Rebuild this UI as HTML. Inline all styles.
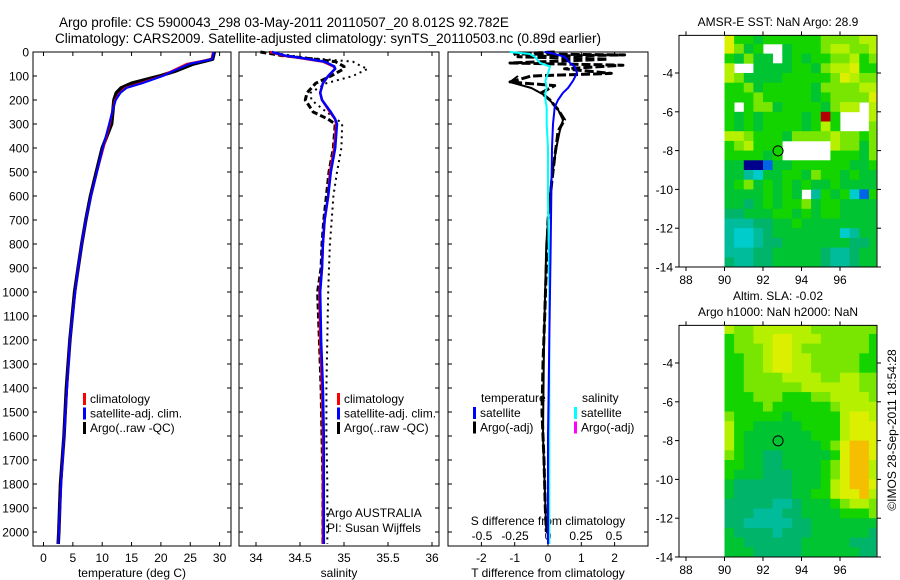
<!DOCTYPE html>
<html><head><meta charset="utf-8"><style>
html,body{margin:0;padding:0;background:#fff;width:900px;height:580px;overflow:hidden}
svg{display:block;font-family:"Liberation Sans",Arial,sans-serif}
text{fill:#000}
</style></head><body>
<svg id="fig" width="900" height="580" viewBox="0 0 900 580" xmlns="http://www.w3.org/2000/svg">
<text x="59" y="27" font-size="13.5">Argo profile: CS 5900043_298 03-May-2011 20110507_20 8.012S 92.782E</text>
<text x="55" y="43" font-size="13.5">Climatology: CARS2009. Satellite-adjusted climatology: synTS_20110503.nc (0.89d earlier)</text>
<g id="layer"></g>
</svg>
<script>
// ---------- data ----------
const depthTicks=[0,100,200,300,400,500,600,700,800,900,1000,1100,1200,1300,1400,1500,1600,1700,1800,1900,2000];
const tTicks=[0,5,10,15,20,25,30];
const sTicks=[34,34.5,35,35.5,36];
const sTickLabels=["34","34.5","35","35.5","36"];
const dTTicks=[-2,-1,0,1,2];
const dSTicks=[-0.5,-0.25,0,0.25,0.5];
const dSTickLabels=["-0.5","-0.25","0","0.25","0.5"];

const tDepth=[0,30,50,80,100,130,150,170,200,250,300,400,500,600,700,800,900,1000,1200,1400,1600,1800,2000,2050];
const tClim=[28.9,28.6,24.4,21.8,20.2,16.5,13.9,13.0,12.2,11.7,11.3,10.2,9.1,8.1,7.2,6.5,5.9,5.4,4.5,4.0,3.5,3.0,2.6,2.5];
const tSat=[29.0,28.7,24.8,22.0,20.3,16.8,14.1,13.1,12.3,11.7,11.2,10.1,9.1,8.1,7.2,6.5,5.9,5.4,4.5,4.0,3.5,3.0,2.6,2.5];
const tArgo=[29.1,28.8,25.5,22.4,19.8,15.0,13.2,12.4,12.0,11.8,11.6,10.0,9.0,8.0,7.2,6.5,5.9,5.3,4.5,3.9,3.5,2.9,2.6,2.5];

const sDepth=[0,15,25,40,60,70,100,130,170,200,250,280,300,400,500,600,700,800,900,1000,1200,1400,1600,1800,2000,2050];
const sClim=[34.16,34.31,34.5,34.76,34.88,34.9,34.82,34.76,34.73,34.75,34.84,34.9,34.91,34.89,34.84,34.82,34.78,34.76,34.75,34.72,34.73,34.75,34.76,34.76,34.76,34.76];
const sSat=[34.18,34.33,34.52,34.78,34.89,34.9,34.82,34.76,34.73,34.75,34.85,34.9,34.92,34.9,34.85,34.82,34.78,34.76,34.75,34.73,34.74,34.76,34.77,34.77,34.77,34.77];
const sArgoDash=[34.05,34.3,34.55,34.9,35.0,35.0,34.85,34.68,34.58,34.56,34.65,34.82,34.9,34.88,34.83,34.8,34.77,34.75,34.74,34.7,34.72,34.74,34.75,34.76,34.76,34.76];
const sArgoDot=[34.15,34.4,34.6,35.1,35.2,35.27,35.1,34.8,34.62,34.63,34.8,34.92,34.98,34.97,34.92,34.88,34.86,34.84,34.83,34.82,34.81,34.8,34.8,34.81,34.81,34.81];

const dDepth=[0,8,20,46,60,88,120,150,170,200,230,300,400,600,800,1000,1200,1400,1600,1800,2000,2050];
const dTSat=[-0.1,0.2,0.5,0.66,0.8,0.87,0.75,0.6,0.45,0.3,0.2,0.15,0.12,0.1,0.08,0.06,0.04,0.02,0.0,0.0,0.0,0.0];
const dSSat=[-0.29,-0.14,-0.1,-0.06,0.015,0.0,-0.02,-0.01,-0.02,-0.02,-0.01,-0.01,0.0,0.0,0.005,0.01,0.01,0.01,0.01,0.01,0.01,0.01];
const argoDDepth=[0,8,12,20,30,46,55,70,89,100,125,140,170,200,240,283,330,367,437,533,700,900,1100,1300,1500,1700,1900,2000];
const dTArgo=[0.2,-1.0,2.3,-0.9,1.8,-1.14,2.25,0.5,1.9,-0.5,-1.14,0.2,-0.2,0.06,0.3,0.5,0.3,0.27,0.2,0.12,0.0,-0.05,-0.1,-0.15,-0.18,-0.12,-0.08,-0.05];
const argo2Depth=[100,125,150,180,200,240,283,330,400,533,800,1200,1600,2000];
const dTArgo2=[-0.9,-1.14,-0.5,-0.1,0.05,0.3,0.45,0.35,0.25,0.1,-0.05,-0.12,-0.15,-0.05];

const lonTicks=[88,90,92,94,96];
const latTicks=[-4,-6,-8,-10,-12,-14];
const argoLon=92.782, argoLat=-8.012;
const sstRows=[
"YGGgGGGGGGllllyy","YlgG..gGGGlyylly","Gglgg.gGgGGllyGl","y..ggggGGglyyYGG","ylggggGGGGGlYyll","GGlgGGGGGgllllyy",
"GGGlGGGGGgGllllY","G.GllgGGGGglyy.y","GgGgGGGGgGrG...y","GgGgGGGGgGyG...l","yylGGGgllllyllGl","GlyGGG.....yllgl",
"GGGGgG.....GGGgl","ggnnbggGGGGGGggG","ggtcggGGglGGgGgg","gGlgGgGgGggGgggg","ggggGgGg.tGgGcbG","ggugGgGGlgGGgggg",
"uugggGGgGgGGgggg","tttuuggGgggggggg","tcctugggggggctgg","tcctuuggggggguug","tttuuggggguttugg","uttuuggggguttugg"];
const slaRows=[
"yllyyyyyylllllll","GllyyYYyyylllllG","GlllyYYylllllllG","GGllyYYyylllllGG","GGllyYYyylllllGG","GGllllyyyyllyyll",
"GGllllllyyyyyyll","GGGlllGGGllyyyyl","GGGGlGGGGGGlyyyy","lGGGGGgGGGGGyYYy","yGGgggggGGGGyYYY","yGgggggggGGGyYYY",
"yGggggggggGlYooY","lGgguugggggGYooY","GGgguuggggGlYooy","GggguuugggGlYooy","guuuuuugggGyYooY","guuuuuuggGGyYYoy",
"uuuuuttugggGlyyl","uuutttuuggggGGGl","uutttttuuggggggg","guuuutuuuggggggu","gguuuuuuggggguuu","ggguuuuugggggguu"];
const palette={'n':'#00008c','b':'#0064e6','c':'#00cccc','t':'#00bc9a','u':'#00b46a','g':'#00c432','G':'#14d400','l':'#78e600','y':'#b4f000','Y':'#dcef00','o':'#f5be00','r':'#b40000'};

// ---------- helpers ----------
const NS="http://www.w3.org/2000/svg";
const layer=document.getElementById('layer');
function mk(tag,attrs,parent){const e=document.createElementNS(NS,tag);for(const k in attrs)e.setAttribute(k,attrs[k]);(parent||layer).appendChild(e);return e;}
function txt(x,y,s,size,anchor,parent){const e=mk('text',{x:x,y:y,'font-size':size,'text-anchor':anchor||'start'},parent);e.textContent=s;return e;}
const yD=d=>52+d*0.24;
const PT={x0:33,x1:231}, PS={x0:239,x1:439}, PD={x0:448,x1:648};
const xT=t=>43.5+t*5.87;
const xS=s=>256+(s-34)*88;
const xDT=v=>548+v*33.3;
const xDS=v=>548+v*132;
const TOP=52,BOT=546;
function line(xs,ys,fx,stroke,w,dash,name){
  let d='';for(let i=0;i<xs.length;i++){d+=(i?'L':'M')+fx(xs[i]).toFixed(1)+','+yD(ys[i]).toFixed(1);}
  const p=mk('path',{d:d,fill:'none',stroke:stroke,'stroke-width':w,'stroke-linejoin':'round'});
  if(dash)p.setAttribute('stroke-dasharray',dash);
  
  
  return p;
}
function frame(P,name){
  const r=mk('rect',{x:P.x0,y:TOP,width:P.x1-P.x0,height:BOT-TOP,fill:'none',stroke:'#000','stroke-width':1});
  
  
}
function xticks(P,vals,labels,fx,name){
  const g=mk('g',{});
  
  
  vals.forEach((v,i)=>{const x=fx(v);
    mk('line',{x1:x,x2:x,y1:BOT,y2:BOT-4,stroke:'#000'},g);
    mk('line',{x1:x,x2:x,y1:TOP,y2:TOP+4,stroke:'#000'},g);
    txt(x,562,labels[i],12,'middle',g);});
}
function yticks(P,right){
  depthTicks.forEach(d=>{const y=yD(d);
    mk('line',{x1:P.x0,x2:P.x0+4,y1:y,y2:y,stroke:'#000'});
    if(right)mk('line',{x1:P.x1,x2:P.x1-4,y1:y,y2:y,stroke:'#000'});});
}
// ---------- panel 1 temperature ----------
const ylab=mk('g',{});


depthTicks.forEach(d=>txt(29,yD(d)+4.5,String(d),12,'end',ylab));
frame(PT,'temperature-panel-frame');yticks(PT,true);
xticks(PT,tTicks,tTicks.map(String),xT,'temperature-x-ticks');
line(tArgo,tDepth,xT,'#000',3.5,null,'temp-argo-line');
line(tClim,tDepth,xT,'#f00',2.2,null,'temp-climatology-line');
line(tSat,tDepth,xT,'#00f',2.2,null,'temp-satellite-line');
txt(132,577,'temperature (deg C)',12,'middle');
function legend(x,y,items,name){
  const g=mk('g',{});
  
  
  items.forEach((it,i)=>{mk('rect',{x:x,y:y+i*14.5-10,width:3,height:12,fill:it[0]},g);txt(x+7,y+i*14.5,it[1],12,'start',g);});
}
legend(83,403,[['#f00','climatology'],['#00f','satellite-adj. clim.'],['#000','Argo(..raw -QC)']],'temperature-legend');
// ---------- panel 2 salinity ----------
frame(PS,'salinity-panel-frame');yticks(PS,true);
xticks(PS,sTicks,sTickLabels,xS,'salinity-x-ticks');
line(sArgoDot,sDepth,xS,'#000',2,'2,4','salinity-argo-dotted');
line(sArgoDash,sDepth,xS,'#000',3,'6,3','salinity-argo-dashed');
line(sClim,sDepth,xS,'#f00',2.5,null,'salinity-climatology-line');
line(sSat,sDepth,xS,'#00f',2.5,null,'salinity-satellite-line');
txt(339,577,'salinity',12,'middle');
legend(337,403,[['#f00','climatology'],['#00f','satellite-adj. clim.'],['#000','Argo(..raw -QC)']],'salinity-legend');
txt(327,517,'Argo AUSTRALIA',12);
txt(327,532,'PI: Susan Wijffels',12);
// ---------- panel 3 differences ----------
frame(PD,'difference-panel-frame');yticks(PD,true);
xticks(PD,dTTicks,dTTicks.map(String),xDT,'t-difference-x-ticks');
const sdl=mk('g',{});


dSTicks.forEach((v,i)=>txt(xDS(v),540,dSTickLabels[i],12,'middle',sdl));
txt(548,525,'S difference from climatology',12,'middle');
txt(548,577,'T difference from climatology',12,'middle');
line(dTArgo,argoDDepth,xDT,'#000',3,'9,3','t-diff-argo-dashed');
line(dTArgo2,argo2Depth,xDT,'#000',2,null,'t-diff-argo-solid');
line(dSSat,dDepth,xDS,'#00ffff',2,null,'s-diff-satellite-line');
line(dTSat,dDepth,xDT,'#00f',2,null,'t-diff-satellite-line');
txt(481,402,'temperature',12);
txt(582,402,'salinity',12);
legend(473,417,[['#00f','satellite'],['#000','Argo(-adj)']],'t-diff-legend');
legend(574,417,[['#00ffff','satellite'],['#f0f','Argo(-adj)']],'s-diff-legend');
// ---------- maps ----------
function map(rows,top,name,titles){
  const xL=lon=>686+(lon-88)*19.25;
  const yL=lat=>top+38+(-4-lat)*19.4;
  const g=mk('g',{});
  
  
  const fx0=679,fx1=877,fy0=yL(-2.06),fy1=yL(-14);
  rows.forEach((row,r)=>{for(let c=0;c<row.length;c++){const ch=row[c];if(!palette[ch])continue;
    const x=xL(90+c*0.5),y=yL(-2-r*0.5);
    const w=Math.min(xL(90.5+c*0.5),876)-x;
    const cell=mk('rect',{x:x.toFixed(1),y:Math.max(y,fy0).toFixed(1),width:(w+0.4).toFixed(1),height:(yL(-2.5-r*0.5)-Math.max(y,fy0)+0.4).toFixed(1),fill:palette[ch]},g);
    
    }});
  mk('rect',{x:fx0,y:fy0,width:fx1-fx0,height:fy1-fy0,fill:'none',stroke:'#000'},g);
  lonTicks.forEach(l=>{const x=xL(l);mk('line',{x1:x,x2:x,y1:fy1,y2:fy1+4,stroke:'#000'},g);mk('line',{x1:x,x2:x,y1:fy0,y2:fy0-4,stroke:'#000'},g);txt(x,fy1+17,String(l),12,'middle',g);});
  latTicks.forEach(l=>{const y=yL(l);mk('line',{x1:fx0,x2:fx0-4,y1:y,y2:y,stroke:'#000'},g);mk('line',{x1:fx1,x2:fx1+4,y1:y,y2:y,stroke:'#000'},g);txt(673,y+4.5,String(l),12,'end',g);});
  const c=mk('circle',{cx:xL(argoLon),cy:yL(argoLat),r:5,fill:'none',stroke:'#000'},g);
  
  
  titles.forEach((t,i)=>txt(778,top-9-(titles.length-1-i)*16,t,12,'middle',g));
}
map(sstRows,35,'sst-map',['AMSR-E SST: NaN Argo: 28.9']);
map(slaRows,325,'sla-map',['Altim. SLA: -0.02','Argo h1000: NaN h2000: NaN']);
const stamp=txt(0,0,'\u00a9IMOS 28-Sep-2011 18:54:28',12,'middle');
stamp.setAttribute('transform','translate(896,430) rotate(-90)');


</script>
</body></html>
